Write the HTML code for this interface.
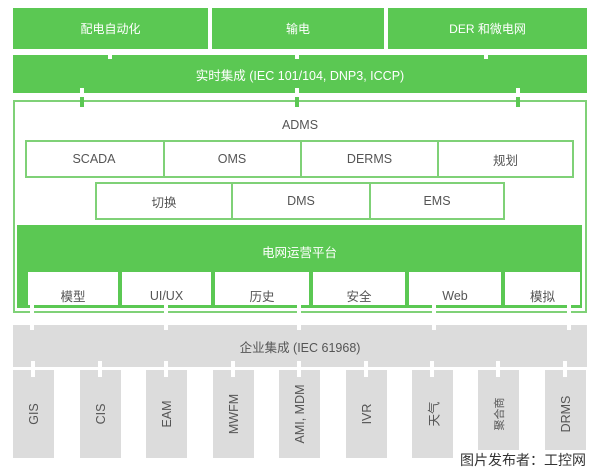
<!DOCTYPE html>
<html><head><meta charset="utf-8"><style>
body{margin:0;width:600px;height:473px;background:#fff;position:relative;overflow:hidden;font-family:"Liberation Sans","Noto Sans CJK SC",sans-serif;}
div{position:absolute;box-sizing:border-box;}
.g{background:#5bc853;color:#fff;font-size:12px;display:flex;align-items:center;justify-content:center;}
.w{background:#fff;color:#555;font-size:12.5px;display:flex;align-items:center;justify-content:center;}
.gr{background:#dcdcdc;color:#555;font-size:12.5px;}
.v{background:#dcdcdc;color:#555;font-size:12.5px;width:41px;top:370px;height:88px;}
.v span{position:absolute;left:50%;top:50%;transform:translate(-50%,-50%) rotate(-90deg);white-space:nowrap;}
.a{width:4px;background:#fff;}
.ag{width:4px;background:#5bc853;}
</style></head><body>
<div class="g" style="left:13px;top:8px;width:195px;height:41px">配电自动化</div>
<div class="g" style="left:212px;top:8px;width:172px;height:41px">输电</div>
<div class="g" style="left:388px;top:8px;width:199px;height:41px">DER 和微电网</div>
<div class="g" style="left:13px;top:55px;width:574px;height:38px;font-size:12.5px">实时集成 (IEC 101/104, DNP3, ICCP)</div>
<div class="a" style="left:108px;top:49px;height:10px"></div>
<div class="a" style="left:295px;top:49px;height:10px"></div>
<div class="a" style="left:484px;top:49px;height:10px"></div>
<div style="left:13px;top:100px;width:574px;height:213px;border:2px solid #7fd177"></div>
<div class="a" style="left:80px;top:88px;height:12px"></div>
<div class="a" style="left:295px;top:88px;height:12px"></div>
<div class="a" style="left:516px;top:88px;height:12px"></div>
<div class="ag" style="left:80px;top:97px;height:10px"></div>
<div class="ag" style="left:295px;top:97px;height:10px"></div>
<div class="ag" style="left:516px;top:97px;height:10px"></div>
<div class="w" style="left:250px;top:116px;width:100px;height:18px">ADMS</div>
<div style="left:25px;top:140px;width:549px;height:38px;border:2px solid #7fd177"></div>
<div class="w" style="left:27px;top:142px;width:134px;height:34px">SCADA</div>
<div class="w" style="left:163px;top:142px;width:136px;height:34px;border-left:2px solid #7fd177">OMS</div>
<div class="w" style="left:300px;top:142px;width:137px;height:34px;border-left:2px solid #7fd177">DERMS</div>
<div class="w" style="left:437px;top:142px;width:135px;height:34px;border-left:2px solid #7fd177">规划</div>
<div style="left:95px;top:182px;width:410px;height:38px;border:2px solid #7fd177"></div>
<div class="w" style="left:97px;top:184px;width:134px;height:34px">切换</div>
<div class="w" style="left:231px;top:184px;width:138px;height:34px;border-left:2px solid #7fd177">DMS</div>
<div class="w" style="left:369px;top:184px;width:134px;height:34px;border-left:2px solid #7fd177">EMS</div>
<div class="g" style="left:17px;top:225px;width:565px;height:83px;align-items:flex-start;padding-top:17px;font-size:12.5px">电网运营平台</div>
<div class="w" style="left:28px;top:272px;width:90px;height:33px;padding-top:14px">模型</div>
<div class="w" style="left:122px;top:272px;width:89px;height:33px;padding-top:14px">UI/UX</div>
<div class="w" style="left:215px;top:272px;width:94px;height:33px;padding-top:14px">历史</div>
<div class="w" style="left:313px;top:272px;width:92px;height:33px;padding-top:14px">安全</div>
<div class="w" style="left:409px;top:272px;width:92px;height:33px;padding-top:14px">Web</div>
<div class="w" style="left:505px;top:272px;width:75px;height:33px;padding-top:14px">模拟</div>
<div class="gr" style="left:13px;top:325px;width:574px;height:42px;display:flex;align-items:center;justify-content:center">企业集成 (IEC 61968)</div>
<div class="a" style="left:30px;top:305px;height:25px"></div>
<div class="a" style="left:164px;top:305px;height:25px"></div>
<div class="a" style="left:297px;top:305px;height:25px"></div>
<div class="a" style="left:432px;top:305px;height:25px"></div>
<div class="a" style="left:567px;top:305px;height:25px"></div>
<div class="v" style="left:13px"><span>GIS</span></div>
<div class="v" style="left:80px"><span>CIS</span></div>
<div class="v" style="left:146px"><span>EAM</span></div>
<div class="v" style="left:213px"><span>MWFM</span></div>
<div class="v" style="left:279px"><span>AMI, MDM</span></div>
<div class="v" style="left:346px"><span>IVR</span></div>
<div class="v" style="left:412px"><span>天气</span></div>
<div class="v" style="left:478px"><span style="font-size:11px">聚合商</span></div>
<div class="v" style="left:545px"><span>DRMS</span></div>
<div class="a" style="left:31px;top:361px;height:16px"></div>
<div class="a" style="left:98px;top:361px;height:16px"></div>
<div class="a" style="left:164px;top:361px;height:16px"></div>
<div class="a" style="left:231px;top:361px;height:16px"></div>
<div class="a" style="left:297px;top:361px;height:16px"></div>
<div class="a" style="left:364px;top:361px;height:16px"></div>
<div class="a" style="left:430px;top:361px;height:16px"></div>
<div class="a" style="left:496px;top:361px;height:16px"></div>
<div class="a" style="left:563px;top:361px;height:16px"></div>
<div style="left:458px;top:450px;width:140px;height:20px;font-size:14px;color:#333;background:#fff;padding-left:2px">图片发布者：工控网</div>
</body></html>
